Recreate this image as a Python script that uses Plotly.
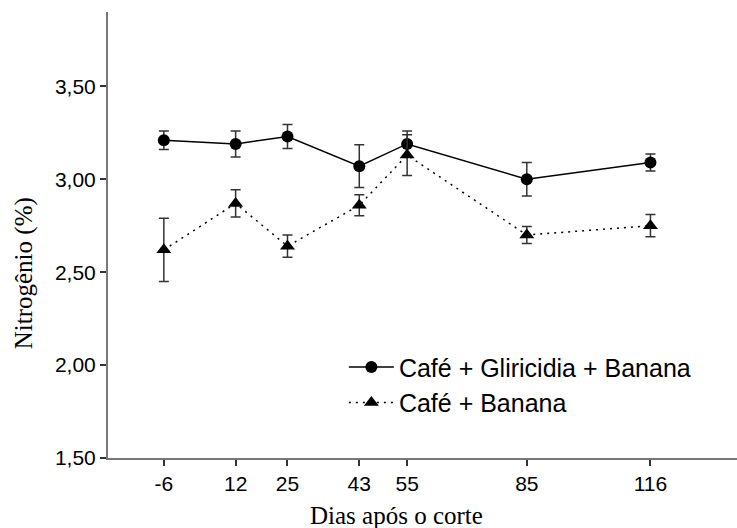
import plotly.graph_objects as go

# Data
dias = [-6, 12, 25, 43, 55, 85, 116]
gliricidia = [3.21, 3.19, 3.23, 3.07, 3.19, 3.00, 3.09]
gliricidia_err = [0.05, 0.07, 0.065, 0.115, 0.07, 0.09, 0.046]
banana = [2.62, 2.87, 2.64, 2.86, 3.13, 2.70, 2.75]
banana_err = [0.17, 0.073, 0.06, 0.056, 0.11, 0.046, 0.06]

x_tickvals = [-6, 12, 25, 43, 55, 85, 116]
x_ticktext = ["-6", "12", "25", "43", "55", "85", "116"]
y_tickvals = [1.5, 2.0, 2.5, 3.0, 3.5]
y_ticktext = ["1,50", "2,00", "2,50", "3,00", "3,50"]

sans = "Liberation Sans, Arial, sans-serif"
serif = "Liberation Serif, Times New Roman, serif"

fig = go.Figure()
fig.add_trace(go.Scatter(
    x=dias, y=gliricidia, name="Café + Gliricidia + Banana",
    mode="lines+markers",
    line=dict(color="black", width=1.5),
    marker=dict(symbol="circle", size=12, color="black"),
    error_y=dict(type="data", array=gliricidia_err, color="#333333", thickness=1.5, width=5),
))
fig.add_trace(go.Scatter(
    x=dias, y=banana, name="Café + Banana",
    mode="lines+markers",
    line=dict(color="black", width=1.5, dash="2px,5px"),
    marker=dict(symbol="triangle-up", size=13, color="black"),
    error_y=dict(type="data", array=banana_err, color="#333333", thickness=1.5, width=5),
))

axis_common = dict(
    showgrid=False, zeroline=False, showline=True, linecolor="#777777", linewidth=2,
    ticks="outside", ticklen=6, tickcolor="#333333", tickwidth=1.5,
    tickfont=dict(family=sans, size=21, color="black"),
)
fig.update_xaxes(range=[-20, 137.7], tickvals=x_tickvals, ticktext=x_ticktext, **axis_common)
fig.update_yaxes(range=[1.5, 3.9], tickvals=y_tickvals, ticktext=y_ticktext, **axis_common)

fig.add_annotation(text="Nitrogênio (%)", xref="paper", yref="paper",
                   x=-0.133, y=0.415, xanchor="center", yanchor="middle",
                   textangle=-90, showarrow=False,
                   font=dict(family=serif, size=25, color="black"))
fig.add_annotation(text="Dias após o corte", xref="paper", yref="paper",
                   x=0.458, y=-0.128, xanchor="center", yanchor="middle",
                   showarrow=False,
                   font=dict(family=serif, size=25, color="black"))

fig.update_layout(
    width=737, height=528,
    margin=dict(l=108, r=0, t=12, b=70),
    plot_bgcolor="white", paper_bgcolor="white",
    showlegend=True,
    legend=dict(x=0.375, y=0.255, xanchor="left", yanchor="top",
                font=dict(family=sans, size=25, color="black"),
                itemwidth=45,
                bgcolor="rgba(0,0,0,0)", tracegroupgap=0),
)

fig.write_html("out.html")
